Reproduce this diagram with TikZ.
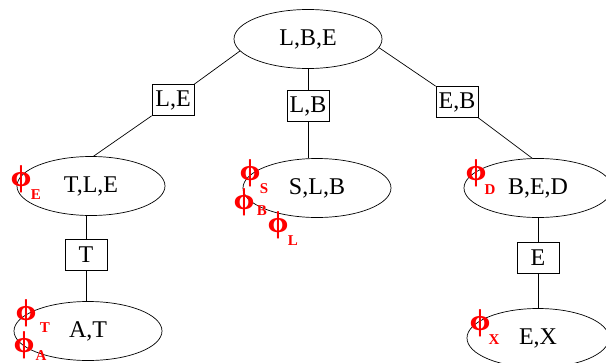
\documentclass[tikz,border=0pt]{standalone}
\usepackage{fontspec}
\setmainfont{Liberation Serif}
\usetikzlibrary{shapes.geometric,backgrounds}
\newcommand{\potphi}{\scalebox{1.12}[1]{ϕ}}
\begin{document}
\begin{tikzpicture}[x=1pt,y=-1pt,
  clique/.style={ellipse,draw,line width=0.7pt,minimum width=148pt,minimum height=59pt,inner sep=0pt,font=\fontsize{24}{28}\selectfont},
  sepbox/.style={rectangle,draw,fill=white,line width=0.7pt,minimum width=42pt,minimum height=31pt,inner sep=0pt,font=\fontsize{24}{28}\selectfont},
  edge/.style={line width=0.7pt},
  phi/.style={text=red,inner sep=0pt,font=\fontsize{30}{32}\selectfont\bfseries},
  sub/.style={text=red,inner sep=0pt,font=\fontsize{15}{16}\selectfont\bfseries}]
\useasboundingbox (0,0) rectangle (606,362);
% cliques
\node[clique] (root) at (308,39) {L,B,E};
\node[clique] (tle) at (91,186) {T,L,E};
\node[clique] (slb) at (317,188) {S,L,B};
\node[clique] (bed) at (538,188) {B,E,D};
\node[clique] (at) at (88,331) {A,T};
\node[clique,minimum width=142pt] (ex) at (538,338) {E,X};
% separators
\node[sepbox] (le) at (173,100) {L,E};
\node[sepbox] (lb) at (308,106) {L,B};
\node[sepbox] (eb) at (457,102) {E,B};
\node[sepbox] (t) at (86,255) {T};
\node[sepbox] (e) at (538,258) {E};
% connectors
\begin{pgfonlayer}{background}
\draw[edge] (root.190) -- (le.north east);
\draw[edge] (le.south west) -- (tle.85);
\draw[edge] (root) -- (lb);
\draw[edge] (lb) -- (lb |- slb.north);
\draw[edge] (root.-7) -- (eb.north west);
\draw[edge] (eb.south east) -- (bed.101);
\draw[edge] (t) -- (t |- tle.south);
\draw[edge] (t) -- (t |- at.north);
\draw[edge] (bed) -- (e);
\draw[edge] (e) -- (ex);
\end{pgfonlayer}
% potentials
\node[phi] (pE) at (21,179) {\potphi};
\node[sub] (sE) at (36,195) {E};
\node[phi] (pS) at (250,173) {\potphi};
\node[sub] (sS) at (264,189) {S};
\node[phi] (pB) at (244,202) {\potphi};
\node[sub] (sB) at (262,211) {B};
\node[phi] (pL) at (278,225) {\potphi};
\node[sub] (sL) at (293,241) {L};
\node[phi] (pD) at (476,173) {\potphi};
\node[sub] (sD) at (490,190) {D};
\node[phi] (pT) at (26,313) {\potphi};
\node[sub] (sT) at (45,328) {T};
\node[phi] (pA) at (24,345) {\potphi};
\node[sub] (sA) at (41,356) {A};
\node[phi] (pX) at (480,323) {\potphi};
\node[sub] (sX) at (494,340) {X};
\end{tikzpicture}
\end{document}
